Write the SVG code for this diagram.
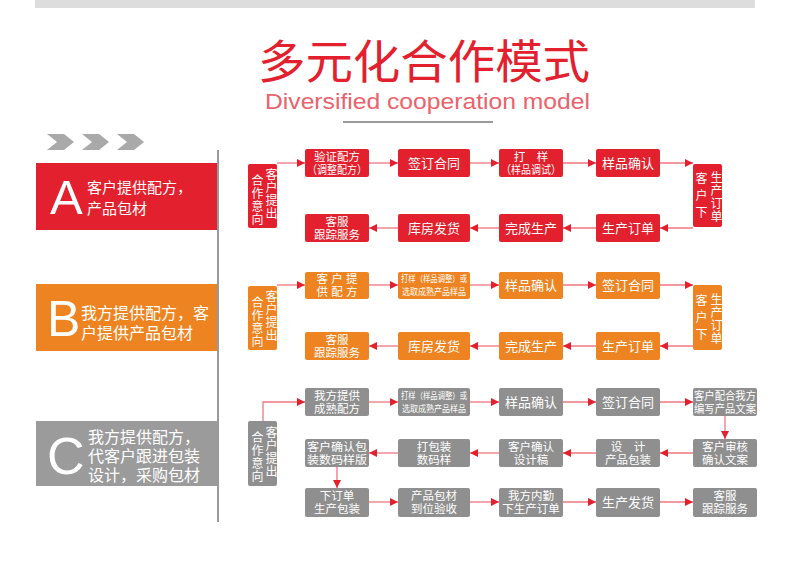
<svg xmlns="http://www.w3.org/2000/svg" width="790" height="577" viewBox="0 0 790 577">
<defs>
<style>
.r{fill:#e3202d}.o{fill:#ee8421}.g{fill:#8f8f8f}
.t{font-family:"Liberation Sans","Noto Sans CJK SC",sans-serif;fill:#fff;text-anchor:middle;dominant-baseline:central}
.s12{font-size:11.5px}.s13{font-size:13px}.s9{font-size:8.6px}
.vv{font-family:"Liberation Sans","Noto Sans CJK SC",sans-serif;fill:#fff;font-size:12px;writing-mode:vertical-rl;letter-spacing:1px}
.lt{font-family:"Liberation Sans","Noto Sans CJK SC",sans-serif;fill:#fff;dominant-baseline:central}
.big{font-family:"Liberation Sans",Arial,sans-serif;fill:#fff}
.ln{stroke:#f07680;stroke-width:1.3;fill:none;marker-end:url(#ah)}
.chev{fill:#a9a9a9}
</style>
<marker id="ah" viewBox="0 0 10 10" refX="10" refY="5" markerWidth="8" markerHeight="8" markerUnits="userSpaceOnUse" orient="auto"><path d="M0,0L10,5L0,10z" fill="#e3202d"/></marker>
</defs>
<rect width="790" height="577" fill="#fff"/>
<rect x="35" y="0" width="720" height="8" fill="#dddddd"/>
<text x="258" y="58" textLength="332" lengthAdjust="spacingAndGlyphs" font-family="Noto Sans CJK SC,sans-serif" font-size="46" fill="#e3202d" dominant-baseline="central">多元化合作模式</text>
<text x="265" y="109" textLength="325" lengthAdjust="spacingAndGlyphs" font-family="Liberation Sans,Arial,sans-serif" font-size="22" fill="#e9636d">Diversified cooperation model</text>
<rect x="343" y="121" width="150" height="2" fill="#9a9a9a"/>
<g id="chevrons">
<polygon class="chev" points="47,134 64,134 74,142 64,150 47,150 57,142"/>
<polygon class="chev" points="82,134 99,134 109,142 99,150 82,150 92,142"/>
<polygon class="chev" points="117,134 134,134 144,142 134,150 117,150 127,142"/>
</g>
<rect x="217" y="150" width="2" height="372" fill="#9a9a9a"/>
<g id="modeA">
<rect x="36" y="163" width="181" height="67" class="r"/>
<text x="50" y="214" class="big" font-size="49">A</text>
<text class="lt" font-size="15"><tspan x="87" y="187">客户提供配方，</tspan><tspan x="87" y="208">产品包材</tspan></text>
</g>
<g id="modeB">
<rect x="36" y="284" width="181" height="67" class="o"/>
<text x="47" y="336" class="big" font-size="50">B</text>
<text class="lt" font-size="16"><tspan x="81" y="313">我方提供配方，客</tspan><tspan x="81" y="333">户提供产品包材</tspan></text>
</g>
<g id="modeC">
<rect x="36" y="421" width="181" height="65" style="fill:#9b9b9b"/>
<text x="47" y="474" class="big" font-size="52">C</text>
<text class="lt" font-size="16"><tspan x="88" y="437">我方提供配方，</tspan><tspan x="88" y="456">代客户跟进包装</tspan><tspan x="88" y="475">设计，采购包材</tspan></text>
</g>
<g id="connectors">
<path class="ln" d="M277,163H305"/><path class="ln" d="M369,163H398"/><path class="ln" d="M470,163H499"/><path class="ln" d="M563,163H596"/><path class="ln" d="M660,163H693"/>
<path class="ln" d="M693,228H660"/><path class="ln" d="M596,228H563"/><path class="ln" d="M499,228H470"/><path class="ln" d="M398,228H369"/>
<path class="ln" d="M277,285H305"/><path class="ln" d="M369,285H398"/><path class="ln" d="M470,285H499"/><path class="ln" d="M563,285H596"/><path class="ln" d="M660,285H693"/>
<path class="ln" d="M693,346H660"/><path class="ln" d="M596,346H563"/><path class="ln" d="M499,346H470"/><path class="ln" d="M398,346H369"/>
<path class="ln" d="M263,421V402H305"/><path class="ln" d="M369,402H398"/><path class="ln" d="M470,402H499"/><path class="ln" d="M563,402H596"/><path class="ln" d="M660,402H693"/>
<path class="ln" d="M725,416V439"/>
<path class="ln" d="M693,453H660"/><path class="ln" d="M596,453H563"/><path class="ln" d="M499,453H470"/><path class="ln" d="M398,453H369"/>
<path class="ln" d="M337,467V488"/>
<path class="ln" d="M369,502H398"/><path class="ln" d="M470,502H499"/><path class="ln" d="M563,502H596"/><path class="ln" d="M660,502H693"/>
</g>
<!-- Row A -->
<g id="a0"><rect x="248" y="164" width="29" height="64" rx="2" class="r"/>
<text class="vv" x="270" y="168">客户提出</text>
<text class="vv" x="256" y="174">合作意向</text></g>
<g id="a1"><rect x="305" y="149" width="64" height="28" rx="2" class="r"/><text class="t s12"><tspan x="337" y="157">验证配方</tspan><tspan x="337" y="170" textLength="60" lengthAdjust="spacingAndGlyphs">（调整配方）</tspan></text></g>
<g id="a2"><rect x="398" y="149" width="72" height="28" rx="2" class="r"/><text class="t s13" x="434" y="163">签订合同</text></g>
<g id="a3"><rect x="499" y="149" width="64" height="28" rx="2" class="r"/><text class="t s12"><tspan x="531" y="157">打　样</tspan><tspan x="531" y="170" textLength="60" lengthAdjust="spacingAndGlyphs">（样品调试）</tspan></text></g>
<g id="a4"><rect x="596" y="149" width="64" height="28" rx="2" class="r"/><text class="t s13" x="628" y="163">样品确认</text></g>
<g id="a5"><rect x="693" y="164" width="29" height="63" rx="2" class="r"/>
<text class="vv" x="715" y="171">生产订单</text>
<text class="vv" x="700" y="172" style="letter-spacing:5px">客户下</text></g>
<g id="a6"><rect x="596" y="214" width="64" height="28" rx="2" class="r"/><text class="t s13" x="628" y="228">生产订单</text></g>
<g id="a7"><rect x="499" y="214" width="64" height="28" rx="2" class="r"/><text class="t s13" x="531" y="228">完成生产</text></g>
<g id="a8"><rect x="398" y="214" width="72" height="28" rx="2" class="r"/><text class="t s13" x="434" y="228">库房发货</text></g>
<g id="a9"><rect x="305" y="214" width="64" height="28" rx="2" class="r"/><text class="t s12"><tspan x="337" y="222">客服</tspan><tspan x="337" y="235">跟踪服务</tspan></text></g>
<!-- Row B -->
<g id="b0"><rect x="248" y="286" width="29" height="64" rx="2" class="o"/>
<text class="vv" x="270" y="290">客户提出</text>
<text class="vv" x="256" y="296">合作意向</text></g>
<g id="b1"><rect x="305" y="272" width="64" height="27" rx="2" class="o"/><text class="t s12"><tspan x="337" y="279">客 户 提</tspan><tspan x="337" y="292">供 配 方</tspan></text></g>
<g id="b2"><rect x="398" y="272" width="72" height="27" rx="2" class="o"/><text class="t s9"><tspan x="434" y="279" textLength="66" lengthAdjust="spacingAndGlyphs">打样（样品调整）或</tspan><tspan x="434" y="292" textLength="64" lengthAdjust="spacingAndGlyphs">选取成熟产品样品</tspan></text></g>
<g id="b3"><rect x="499" y="272" width="64" height="27" rx="2" class="o"/><text class="t s13" x="531" y="285.5">样品确认</text></g>
<g id="b4"><rect x="596" y="272" width="64" height="27" rx="2" class="o"/><text class="t s13" x="628" y="285.5">签订合同</text></g>
<g id="b5"><rect x="693" y="285" width="29" height="65" rx="2" class="o"/>
<text class="vv" x="715" y="293">生产订单</text>
<text class="vv" x="700" y="294" style="letter-spacing:5px">客户下</text></g>
<g id="b6"><rect x="596" y="332" width="64" height="28" rx="2" class="o"/><text class="t s13" x="628" y="346">生产订单</text></g>
<g id="b7"><rect x="499" y="332" width="64" height="28" rx="2" class="o"/><text class="t s13" x="531" y="346">完成生产</text></g>
<g id="b8"><rect x="398" y="332" width="72" height="28" rx="2" class="o"/><text class="t s13" x="434" y="346">库房发货</text></g>
<g id="b9"><rect x="305" y="332" width="64" height="28" rx="2" class="o"/><text class="t s12"><tspan x="337" y="340">客服</tspan><tspan x="337" y="353">跟踪服务</tspan></text></g>
<!-- Row C -->
<g id="c0"><rect x="248" y="421" width="29" height="65" rx="2" class="g"/>
<text class="vv" x="270" y="426">客户提出</text>
<text class="vv" x="256" y="431">合作意向</text></g>
<g id="c1"><rect x="305" y="388" width="64" height="28" rx="2" class="g"/><text class="t s12"><tspan x="337" y="396">我方提供</tspan><tspan x="337" y="409">成熟配方</tspan></text></g>
<g id="c2"><rect x="398" y="388" width="72" height="28" rx="2" class="g"/><text class="t s9"><tspan x="434" y="396" textLength="66" lengthAdjust="spacingAndGlyphs">打样（样品调整）或</tspan><tspan x="434" y="409" textLength="64" lengthAdjust="spacingAndGlyphs">选取成熟产品样品</tspan></text></g>
<g id="c3"><rect x="499" y="388" width="64" height="28" rx="2" class="g"/><text class="t s13" x="531" y="402">样品确认</text></g>
<g id="c4"><rect x="596" y="388" width="64" height="28" rx="2" class="g"/><text class="t s13" x="628" y="402">签订合同</text></g>
<g id="c5"><rect x="693" y="388" width="64" height="28" rx="2" class="g"/><text class="t s12"><tspan x="725" y="396" textLength="62" lengthAdjust="spacingAndGlyphs">客户配合我方</tspan><tspan x="725" y="409" textLength="62" lengthAdjust="spacingAndGlyphs">编写产品文案</tspan></text></g>
<g id="c6"><rect x="693" y="439" width="64" height="28" rx="2" class="g"/><text class="t s12"><tspan x="725" y="447">客户审核</tspan><tspan x="725" y="460">确认文案</tspan></text></g>
<g id="c7"><rect x="596" y="439" width="64" height="28" rx="2" class="g"/><text class="t s12"><tspan x="628" y="447">设　计</tspan><tspan x="628" y="460">产品包装</tspan></text></g>
<g id="c8"><rect x="499" y="439" width="64" height="28" rx="2" class="g"/><text class="t s12"><tspan x="531" y="447">客户确认</tspan><tspan x="531" y="460">设计稿</tspan></text></g>
<g id="c9"><rect x="398" y="439" width="72" height="28" rx="2" class="g"/><text class="t s12"><tspan x="434" y="447">打包装</tspan><tspan x="434" y="460">数码样</tspan></text></g>
<g id="c10"><rect x="305" y="439" width="64" height="28" rx="2" class="g"/><text class="t s12"><tspan x="337" y="447" textLength="60" lengthAdjust="spacingAndGlyphs">客户确认包</tspan><tspan x="337" y="460" textLength="60" lengthAdjust="spacingAndGlyphs">装数码样版</tspan></text></g>
<g id="c11"><rect x="305" y="488" width="64" height="29" rx="2" class="g"/><text class="t s12"><tspan x="337" y="496">下订单</tspan><tspan x="337" y="509">生产包装</tspan></text></g>
<g id="c12"><rect x="398" y="488" width="72" height="29" rx="2" class="g"/><text class="t s12"><tspan x="434" y="496">产品包材</tspan><tspan x="434" y="509">到位验收</tspan></text></g>
<g id="c13"><rect x="499" y="488" width="64" height="29" rx="2" class="g"/><text class="t s12"><tspan x="531" y="496">我方内勤</tspan><tspan x="531" y="509">下生产订单</tspan></text></g>
<g id="c14"><rect x="596" y="488" width="64" height="29" rx="2" class="g"/><text class="t s13" x="628" y="502.5">生产发货</text></g>
<g id="c15"><rect x="693" y="488" width="64" height="29" rx="2" class="g"/><text class="t s12"><tspan x="725" y="496">客服</tspan><tspan x="725" y="509">跟踪服务</tspan></text></g>
</svg>
